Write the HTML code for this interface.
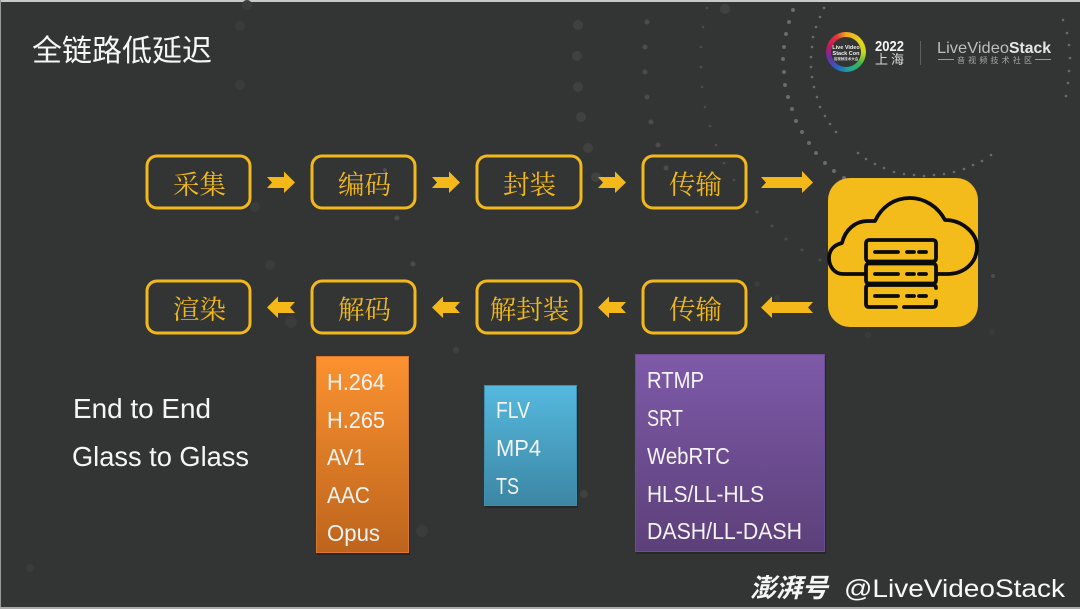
<!DOCTYPE html>
<html><head><meta charset="utf-8">
<style>
html,body{margin:0;padding:0;background:#333534;}
#p{position:relative;width:1080px;height:609px;overflow:hidden;background:#333534;}
svg{position:absolute;left:0;top:0;}
.s{font-family:"Liberation Sans","Noto Sans CJK SC",sans-serif;}
.cn{font-family:"Liberation Serif","Noto Serif CJK SC",serif;font-size:26.5px;fill:#f2b81c;text-anchor:middle;}
.l{font-family:"Liberation Sans",sans-serif;font-size:23px;fill:#f4f4f4;}
.e{font-family:"Liberation Sans",sans-serif;font-size:28px;fill:#f6f6f6;}
#ring{position:absolute;left:826px;top:32px;width:40px;height:40px;border-radius:50%;background:conic-gradient(#f5a623 0deg,#e8d21a 50deg,#cfd61e 90deg,#3bb54a 130deg,#1fa5a0 170deg,#2a62c0 210deg,#6a2fa8 250deg,#c2185b 290deg,#e53935 330deg,#f5a623 360deg);}
#ring:after{content:"";position:absolute;left:5px;top:5px;width:30px;height:30px;border-radius:50%;background:#333534;}
</style></head><body><div id="p">
<div id="ring"></div>
<svg width="1080" height="609" viewBox="0 0 1080 609" xmlns="http://www.w3.org/2000/svg">
<defs>
<linearGradient id="o" x1="0" y1="0" x2="0" y2="1"><stop offset="0" stop-color="#fb9230"/><stop offset="1" stop-color="#bd641c"/></linearGradient>
<linearGradient id="t" x1="0" y1="0" x2="0" y2="1"><stop offset="0" stop-color="#55b9de"/><stop offset="1" stop-color="#3c86a4"/></linearGradient>
<linearGradient id="v" x1="0" y1="0" x2="0" y2="1"><stop offset="0" stop-color="#7e5aa9"/><stop offset="1" stop-color="#5c4079"/></linearGradient>
</defs>
<!-- edges -->
<rect x="0" y="0" width="1080" height="2" fill="#c9c9c9"/>
<rect x="0" y="0" width="1" height="609" fill="#9a9a9a"/>
<rect x="0" y="607" width="1080" height="2" fill="#a9a9a9"/>
<!-- dots: outer arc -->
<g fill="#6f686c">
<circle cx="793" cy="10" r="2"/><circle cx="789" cy="22" r="2"/><circle cx="786" cy="34" r="2"/><circle cx="784" cy="47" r="2"/><circle cx="783" cy="59" r="2"/><circle cx="784" cy="72" r="2"/><circle cx="785" cy="85" r="2"/><circle cx="788" cy="97" r="2"/><circle cx="792" cy="109" r="2"/><circle cx="796" cy="121" r="2"/><circle cx="802" cy="132" r="2"/><circle cx="809" cy="143" r="2"/><circle cx="816" cy="153" r="2"/><circle cx="825" cy="163" r="2"/><circle cx="834" cy="171" r="2"/>
<circle cx="844" cy="178" r="2"/>
<circle cx="824" cy="8" r="1.3"/><circle cx="820" cy="17" r="1.3"/><circle cx="816" cy="27" r="1.3"/><circle cx="813" cy="37" r="1.3"/><circle cx="812" cy="47" r="1.3"/><circle cx="811" cy="57" r="1.3"/><circle cx="811" cy="67" r="1.3"/><circle cx="812" cy="77" r="1.3"/><circle cx="814" cy="87" r="1.3"/><circle cx="817" cy="97" r="1.3"/><circle cx="820" cy="107" r="1.3"/><circle cx="825" cy="116" r="1.3"/><circle cx="830" cy="124" r="1.3"/><circle cx="836" cy="132" r="1.3"/>
<circle cx="858" cy="153" r="1.3"/><circle cx="866" cy="159" r="1.3"/><circle cx="875" cy="164" r="1.3"/><circle cx="884" cy="168" r="1.3"/><circle cx="894" cy="172" r="1.3"/><circle cx="904" cy="174" r="1.3"/><circle cx="914" cy="175" r="1.3"/><circle cx="924" cy="176" r="1.3"/><circle cx="934" cy="175" r="1.3"/><circle cx="944" cy="174" r="1.3"/><circle cx="954" cy="172" r="1.3"/><circle cx="964" cy="169" r="1.3"/><circle cx="973" cy="165" r="1.3"/><circle cx="982" cy="161" r="1.3"/><circle cx="991" cy="155" r="1.3"/>
<circle cx="1063" cy="20" r="1.3"/><circle cx="1067" cy="33" r="1.3"/><circle cx="1069" cy="45" r="1.3"/><circle cx="1070" cy="58" r="1.3"/><circle cx="1069" cy="71" r="1.3"/><circle cx="1068" cy="83" r="1.3"/><circle cx="1066" cy="96" r="1.3"/>
</g>
<!-- faint dots -->
<g fill="#414142">
<circle cx="578" cy="25" r="5"/><circle cx="577" cy="56" r="5"/><circle cx="578" cy="87" r="5"/><circle cx="581" cy="117" r="5"/><circle cx="588" cy="148" r="5"/><circle cx="596" cy="177" r="5"/>
<circle cx="725" cy="9" r="5"/><circle cx="584" cy="494" r="4"/><circle cx="456" cy="350" r="3"/>
</g>
<g fill="#3a3b3b">
<circle cx="247" cy="5" r="5"/><circle cx="255" cy="207" r="5"/><circle cx="270" cy="265" r="5"/><circle cx="291" cy="322" r="6"/>
<circle cx="240" cy="26" r="5"/><circle cx="240" cy="85" r="5"/>
<circle cx="422" cy="531" r="6"/><circle cx="30" cy="568" r="4"/>
<circle cx="757" cy="284" r="3"/><circle cx="777" cy="298" r="3"/>
<circle cx="883" cy="320" r="3"/><circle cx="868" cy="335" r="3"/><circle cx="992" cy="332" r="3"/>
</g>
<g fill="#4c4c4f">
<circle cx="647" cy="22" r="2.500"/><circle cx="645" cy="47" r="2.500"/><circle cx="645" cy="72" r="2.500"/><circle cx="647" cy="97" r="2.500"/><circle cx="651" cy="122" r="2.500"/><circle cx="658" cy="145" r="2.500"/><circle cx="666" cy="168" r="2.500"/>
<circle cx="707" cy="8" r="1.3"/><circle cx="703" cy="27" r="1.3"/><circle cx="701" cy="47" r="1.3"/><circle cx="701" cy="67" r="1.3"/><circle cx="702" cy="87" r="1.3"/><circle cx="705" cy="107" r="1.3"/><circle cx="710" cy="126" r="1.3"/><circle cx="716" cy="145" r="1.3"/><circle cx="724" cy="163" r="1.3"/><circle cx="734" cy="180" r="1.3"/>
<circle cx="757" cy="212" r="1.500"/><circle cx="772" cy="226" r="1.500"/><circle cx="786" cy="239" r="1.500"/><circle cx="802" cy="250" r="1.500"/><circle cx="820" cy="260" r="1.500"/>
<circle cx="397" cy="218" r="2.500"/><circle cx="413" cy="264" r="2.500"/><circle cx="385" cy="170" r="2"/>
<circle cx="993" cy="276" r="2"/>
</g>
<!-- title -->
<text x="32" y="61" class="s" font-size="30" fill="#f6f6f6" textLength="180" lengthAdjust="spacingAndGlyphs">全链路低延迟</text>
<!-- boxes -->
<g fill="none" stroke="#f2b81c" stroke-width="3">
<rect x="147" y="156" width="103" height="52" rx="10"/>
<rect x="312" y="156" width="103" height="52" rx="10"/>
<rect x="477" y="156" width="104" height="52" rx="10"/>
<rect x="643" y="156" width="103" height="52" rx="10"/>
<rect x="147" y="281" width="103" height="52" rx="10"/>
<rect x="312" y="281" width="103" height="52" rx="10"/>
<rect x="477" y="281" width="104" height="52" rx="10"/>
<rect x="643" y="281" width="103" height="52" rx="10"/>
</g>
<text x="199.500" y="194" class="cn">采集</text>
<text x="364.500" y="194" class="cn">编码</text>
<text x="529.500" y="194" class="cn">封装</text>
<text x="695.500" y="194" class="cn">传输</text>
<text x="199.500" y="319" class="cn">渲染</text>
<text x="364.500" y="319" class="cn">解码</text>
<text x="529.500" y="319" class="cn">解封装</text>
<text x="695.500" y="319" class="cn">传输</text>
<!-- arrows -->
<g fill="#f4b918">
<polygon points="267,177 284,177 284,171.500 295,182.500 284,193 284,188 267,188 272,182.500"/>
<polygon points="432,177 449,177 449,171.500 460,182.500 449,193 449,188 432,188 437,182.500"/>
<polygon points="598,177 615,177 615,171.500 626,182.500 615,193 615,188 598,188 603,182.500"/>
<polygon points="761,177 802,177 802,171 813,182.500 802,193 802,188 761,188 766,182.500"/>
<polygon points="295,302 278,302 278,296.500 267,307.500 278,318 278,313 295,313 290,307.500"/>
<polygon points="460,302 443,302 443,296.500 432,307.500 443,318 443,313 460,313 455,307.500"/>
<polygon points="626,302 609,302 609,296.500 598,307.500 609,318 609,313 626,313 621,307.500"/>
<polygon points="813,302 772,302 772,296.500 761,307.500 772,318 772,313 813,313 808,307.500"/>
</g>
<!-- cloud -->
<rect x="828" y="178" width="150" height="149" rx="22" fill="#f4bc1a"/>
<g fill="none" stroke="#0b0b08" stroke-width="3.800" stroke-linecap="round" stroke-linejoin="round">
<path d="M865,274 L843,274 C834,274 829,266 829,258 C829,250 834,245 842,243 C845,230 855,221 868,221 L875,221 C881,208 893,198 910,198 C925,198 938,207 945,220 C962,220 977,233 977,247 C977,262 965,274 947,274 L937,274"/>
<rect x="866" y="240" width="70" height="21.500" rx="3"/>
<rect x="866" y="263.500" width="70" height="20" rx="3"/>
<path d="M896,307 L869,307 Q866,307 866,304 L866,288 Q866,285 869,285 L933,285 Q936,285 936,288 M936,301 L936,304 Q936,307 933,307 L904,307"/>
<path d="M875,252 H898 M907,252 H914 M919,252 H926 M875,274 H898 M907,274 H914 M919,274 H926 M875,296 H898 M907,296 H914 M919,296 H926"/>
</g>
<!-- lists -->
<rect x="317" y="358" width="93" height="197" fill="#000" opacity=".25"/>
<rect x="485" y="387" width="93" height="121" fill="#000" opacity=".25"/>
<rect x="636" y="356" width="190" height="198" fill="#000" opacity=".25"/>
<rect x="316.500" y="356.500" width="92" height="196" fill="url(#o)" stroke="#d9772a"/>
<rect x="484.500" y="385.500" width="92" height="120" fill="url(#t)" stroke="#3f8fae"/>
<rect x="635.500" y="354.500" width="189" height="197" fill="url(#v)" stroke="#6b4f92"/>
<g lengthAdjust="spacingAndGlyphs">
<text x="327" y="390" class="l" textLength="58" lengthAdjust="spacingAndGlyphs">H.264</text>
<text x="327" y="428" class="l" textLength="58" lengthAdjust="spacingAndGlyphs">H.265</text>
<text x="327" y="465" class="l" textLength="38" lengthAdjust="spacingAndGlyphs">AV1</text>
<text x="327" y="503" class="l" textLength="43" lengthAdjust="spacingAndGlyphs">AAC</text>
<text x="327" y="541" class="l" textLength="53" lengthAdjust="spacingAndGlyphs">Opus</text>
<text x="496" y="418" class="l" textLength="34" lengthAdjust="spacingAndGlyphs">FLV</text>
<text x="496" y="456" class="l" textLength="45" lengthAdjust="spacingAndGlyphs">MP4</text>
<text x="496" y="494" class="l" textLength="23" lengthAdjust="spacingAndGlyphs">TS</text>
<text x="647" y="388" class="l" textLength="57" lengthAdjust="spacingAndGlyphs">RTMP</text>
<text x="647" y="426" class="l" textLength="36" lengthAdjust="spacingAndGlyphs">SRT</text>
<text x="647" y="464" class="l" textLength="83" lengthAdjust="spacingAndGlyphs">WebRTC</text>
<text x="647" y="502" class="l" textLength="117" lengthAdjust="spacingAndGlyphs">HLS/LL-HLS</text>
<text x="647" y="539" class="l" textLength="155" lengthAdjust="spacingAndGlyphs">DASH/LL-DASH</text>
</g>
<text x="73" y="418" class="e" textLength="138" lengthAdjust="spacingAndGlyphs">End to End</text>
<text x="72" y="466" class="e" textLength="177" lengthAdjust="spacingAndGlyphs">Glass to Glass</text>
<!-- logo -->
<g class="s" text-anchor="middle" font-weight="bold">
<text x="846" y="49" font-size="5.500" fill="#f0f0f0">Live Video</text>
<text x="846" y="55" font-size="5.500" fill="#f0f0f0">Stack Con</text>
<text x="846" y="60" font-size="3.500" fill="#ddd">音视频技术大会</text>
</g>
<text x="875" y="51" class="s" font-size="15" font-weight="bold" fill="#f4f4f4" textLength="29" lengthAdjust="spacingAndGlyphs">2022</text>
<text x="875" y="64" class="s" font-size="13" fill="#d8d8d8" textLength="29">上海</text>
<rect x="920" y="41" width="1" height="24" fill="#5e5e5e"/>
<text x="937" y="53" class="s" font-size="16" fill="#bdbdbd" textLength="72" lengthAdjust="spacingAndGlyphs">LiveVideo</text>
<text x="1009" y="53" class="s" font-size="16" font-weight="bold" fill="#e6e6e6" textLength="42" lengthAdjust="spacingAndGlyphs">Stack</text>
<rect x="938" y="59" width="16" height="1" fill="#999"/>
<rect x="1035" y="59" width="16" height="1" fill="#999"/>
<text x="957" y="63" class="s" font-size="8" fill="#a8a8a8" textLength="75">音视频技术社区</text>
<!-- watermark -->
<text x="750" y="597" class="s" font-size="26" font-weight="bold" font-style="italic" fill="#f5f5f5" textLength="78" lengthAdjust="spacingAndGlyphs">澎湃号</text>
<text x="844" y="597" class="s" font-size="25" fill="#f8f8f8" textLength="221" lengthAdjust="spacingAndGlyphs">@LiveVideoStack</text>
</svg>
</div></body></html>
